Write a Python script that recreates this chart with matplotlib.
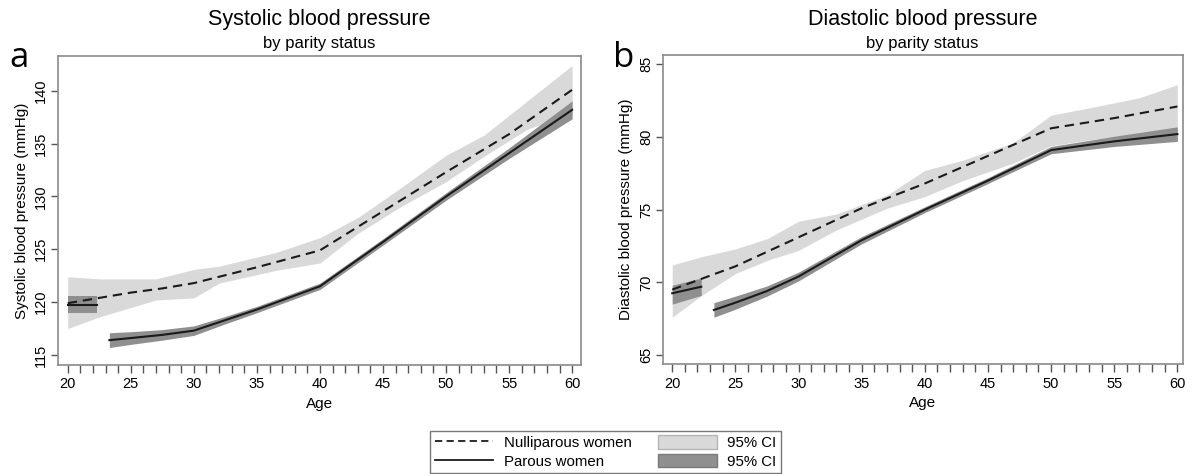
import matplotlib
matplotlib.use("Agg")
import matplotlib.pyplot as plt
from matplotlib.lines import Line2D
from matplotlib.patches import Patch

plt.rcParams['font.family'] = ['Liberation Sans', 'DejaVu Sans']

# ---- systolic ----
sys_null_age = [20, 22.5, 25, 27.5, 30, 35, 40, 45, 50, 55, 60]
sys_null = [119.9, 120.4, 120.9, 121.3, 121.8, 123.3, 124.9, 128.6, 132.3, 135.9, 140.1]
sys_null_ci_age = [20, 22.5, 27, 30, 32, 36.5, 40, 43, 46.5, 50, 53, 56.5, 60]
sys_null_lo = [117.5, 118.6, 120.2, 120.4, 121.8, 123.0, 123.7, 126.5, 129.1, 131.4, 133.8, 136.4, 137.8]
sys_null_hi = [122.4, 122.2, 122.2, 123.1, 123.4, 124.7, 126.1, 128.0, 130.9, 133.9, 135.8, 139.1, 142.4]

sys_par1_age = [20, 22.3]
sys_par1 = [119.75, 119.75]
sys_par1_lo = [118.95, 118.95]
sys_par1_hi = [120.6, 120.6]

sys_par_age = [23.3, 25, 27.5, 30, 32.5, 35, 37.5, 40, 45, 50, 55, 60]
sys_par = [116.4, 116.6, 116.9, 117.3, 118.3, 119.3, 120.4, 121.5, 125.7, 130.0, 134.1, 138.2]
sys_par_lo = [115.7, 116.0, 116.4, 116.85, 117.95, 119.0, 120.1, 121.2, 125.4, 129.65, 133.6, 137.35]
sys_par_hi = [117.1, 117.2, 117.4, 117.75, 118.65, 119.6, 120.7, 121.8, 126.0, 130.35, 134.6, 139.05]

# ---- diastolic ----
dia_null_age = [20, 22.5, 25, 30, 35, 40, 45, 50, 55, 60]
dia_null = [69.5, 70.3, 71.1, 73.1, 75.1, 76.8, 78.7, 80.6, 81.3, 82.1]
dia_null_ci_age = [20, 22.5, 25, 27.5, 30, 33, 37, 40, 43, 47, 50, 53, 57, 60]
dia_null_lo = [67.6, 69.2, 70.6, 71.5, 72.2, 73.6, 75.1, 75.9, 77.0, 78.2, 79.4, 79.8, 80.2, 80.3]
dia_null_hi = [71.2, 71.8, 72.3, 73.0, 74.2, 74.7, 76.0, 77.7, 78.4, 79.6, 81.5, 82.0, 82.7, 83.6]

dia_par1_age = [20, 22.3]
dia_par1 = [69.25, 69.7]
dia_par1_lo = [68.5, 69.1]
dia_par1_hi = [69.8, 70.3]

dia_par_age = [23.3, 25, 27.5, 30, 35, 40, 45, 50, 55, 60]
dia_par = [68.1, 68.6, 69.4, 70.4, 72.9, 75.0, 77.0, 79.1, 79.7, 80.2]
dia_par_lo = [67.6, 68.15, 69.05, 70.1, 72.65, 74.8, 76.8, 78.85, 79.35, 79.7]
dia_par_hi = [68.6, 69.05, 69.75, 70.7, 73.15, 75.2, 77.2, 79.35, 80.05, 80.7]

age_ticks = list(range(20, 61, 5))
age_minor = list(range(20, 61))
sys_ticks = [115, 120, 125, 130, 135, 140]
dia_ticks = [65, 70, 75, 80, 85]

light = '#d9d9d9'
dark = '#8f8f8f'
frame = '#8a8a8a'

fig = plt.figure(figsize=(11.92, 4.74), dpi=100)
ax1 = fig.add_axes([0.0487, 0.2300, 0.4391, 0.6519])
ax2 = fig.add_axes([0.5560, 0.2320, 0.4365, 0.6519])


def draw(ax, null_age, null, ci_age, nlo, nhi, p1_age, p1, p1lo, p1hi, p_age, p, plo, phi):
    ax.fill_between(ci_age, nlo, nhi, color=light, lw=0, zorder=1)
    ax.fill_between(p1_age, p1lo, p1hi, color=dark, lw=0, zorder=2)
    ax.fill_between(p_age, plo, phi, color=dark, lw=0, zorder=2)
    ax.plot(null_age, null, color='#1a1a1a', lw=1.5, dashes=(4.5, 2.8), zorder=3)
    ax.plot(p1_age, p1, color='#1a1a1a', lw=1.5, zorder=3)
    ax.plot(p_age, p, color='#1a1a1a', lw=1.5, zorder=3)


draw(ax1, sys_null_age, sys_null, sys_null_ci_age, sys_null_lo, sys_null_hi,
     sys_par1_age, sys_par1, sys_par1_lo, sys_par1_hi,
     sys_par_age, sys_par, sys_par_lo, sys_par_hi)
draw(ax2, dia_null_age, dia_null, dia_null_ci_age, dia_null_lo, dia_null_hi,
     dia_par1_age, dia_par1, dia_par1_lo, dia_par1_hi,
     dia_par_age, dia_par, dia_par_lo, dia_par_hi)

ax1.set_xlim(19.23, 60.74)
ax1.set_ylim(114.05, 143.3)
ax1.set_yticks(sys_ticks)
ax1.set_ylabel('Systolic blood pressure (mmHg)', fontsize=11, labelpad=4)

ax2.set_xlim(19.25, 60.45)
ax2.set_ylim(64.38, 85.64)
ax2.set_yticks(dia_ticks)
ax2.set_ylabel('Diastolic blood pressure (mmHg)', fontsize=11, labelpad=4)

for ax in (ax1, ax2):
    ax.set_xticks(age_ticks)
    ax.set_xticks(age_minor, minor=True)
    ax.set_xlabel('Age', fontsize=11, labelpad=4)
    for s in ax.spines.values():
        s.set_color(frame)
        s.set_linewidth(1.2)
    ax.tick_params(axis='x', which='both', length=6, width=1, color='#555555',
                   labelsize=10.5, pad=3)
    ax.tick_params(axis='y', length=5, width=1, color='#555555', labelsize=10.5, pad=2)
    for lab in ax.get_yticklabels():
        lab.set_rotation(90)
        lab.set_va('center')

# titles and panel letters
fig.text(0.268, 0.958, 'Systolic blood pressure', ha='center', va='center', fontsize=15.5)
fig.text(0.268, 0.909, 'by parity status', ha='center', va='center', fontsize=12)
fig.text(0.774, 0.958, 'Diastolic blood pressure', ha='center', va='center', fontsize=15.5)
fig.text(0.774, 0.909, 'by parity status', ha='center', va='center', fontsize=12)
fig.text(0.008, 0.8586, 'a', fontsize=25, family=['Open Sans', 'DejaVu Sans'], va='baseline')
fig.text(0.514, 0.8586, 'b', fontsize=25, family=['Open Sans', 'DejaVu Sans'], va='baseline')

handles = [Line2D([], [], color='#1a1a1a', lw=1.3, dashes=(4, 2.4)),
           Line2D([], [], color='#1a1a1a', lw=1.3),
           Patch(facecolor=light, edgecolor='#b5b5b5', lw=1),
           Patch(facecolor=dark, edgecolor='#7a7a7a', lw=1)]
labels = ['Nulliparous women', 'Parous women', '95% CI', '95% CI']
leg = fig.legend(handles, labels, ncol=2, loc='lower center',
                 bbox_to_anchor=(0.508, 0.002), fontsize=10.8, frameon=True,
                 fancybox=False, handlelength=3.9, handleheight=1.0,
                 handletextpad=0.7, columnspacing=1.8, labelspacing=0.25,
                 borderpad=0.3, borderaxespad=0)
leg.get_frame().set_edgecolor('#555555')
leg.get_frame().set_linewidth(1)

fig.savefig('out.png', dpi=100)
